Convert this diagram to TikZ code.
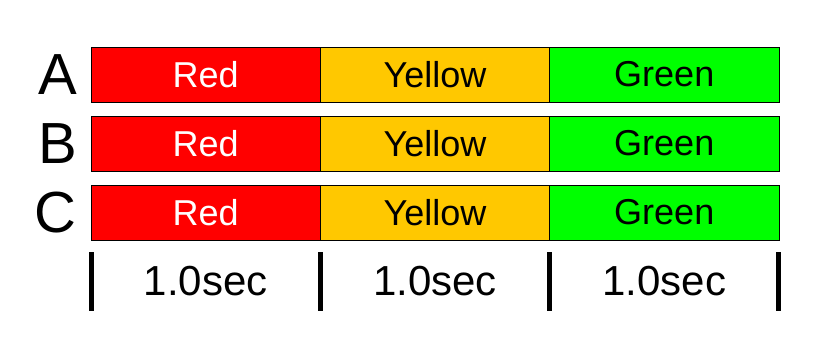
\documentclass[tikz,border=0pt]{standalone}
\usepackage{fontspec}
\setmainfont{Liberation Sans}
\usepackage{xcolor}
\usetikzlibrary{
	positioning,
	calc
}
\definecolor{lightRed}{RGB}{255,0,0}
\definecolor{lightYellow}{RGB}{255,200,0}
\definecolor{lightGreen}{RGB}{0,255,0}

\begin{document}
\begin{tikzpicture}[
	phase/.style={
		rectangle, draw=black, line width=0.8pt,
		minimum width=229.3pt, minimum height=55pt,
		inner sep=0pt, outer sep=0pt,
		font=\fontsize{36}{40}\selectfont
	},
	redbox/.style={
		phase, fill=lightRed, text=white
	},
	yellowbox/.style={
		phase, fill=lightYellow, text=black
	},
	greenbox/.style={
		phase, fill=lightGreen, text=black
	},
	rowlabel/.style={
		inner sep=0pt, font=\fontsize{58}{62}\selectfont
	},
	timelabel/.style={
		inner sep=0pt, font=\fontsize{42}{46}\selectfont
	},
	tick/.style={-, line width=5pt, black}
	]
	
	\useasboundingbox (0,0) rectangle (833pt,-360pt);
	
	% row A
	\node[redbox, anchor=north west] (redA) at (91pt,-47pt) {Red};
	\node[yellowbox, right=0pt of redA] (yellowA) {Yellow};
	\node[greenbox, right=0pt of yellowA] (greenA) {Green};
	
	% row B
	\node[redbox, below=14pt of redA] (redB) {Red};
	\node[yellowbox, right=0pt of redB] (yellowB) {Yellow};
	\node[greenbox, right=0pt of yellowB] (greenB) {Green};
	
	% row C
	\node[redbox, below=14pt of redB] (redC) {Red};
	\node[yellowbox, right=0pt of redC] (yellowC) {Yellow};
	\node[greenbox, right=0pt of yellowC] (greenC) {Green};
	
	% row names
	\node[rowlabel, left=14pt of redA] (nameA) {A};
	\node[rowlabel, left=14pt of redB] (nameB) {B};
	\node[rowlabel, left=14pt of redC] (nameC) {C};
	
	% time axis
	\coordinate (tickTop0) at ([yshift=-12pt]redC.south west);
	\coordinate (tickTop1) at ([yshift=-12pt]redC.south east);
	\coordinate (tickTop2) at ([yshift=-12pt]yellowC.south east);
	\coordinate (tickTop3) at ([yshift=-12pt]greenC.south east);
	\coordinate (tickBot0) at ([yshift=-71pt]redC.south west);
	\coordinate (tickBot1) at ([yshift=-71pt]redC.south east);
	\coordinate (tickBot2) at ([yshift=-71pt]yellowC.south east);
	\coordinate (tickBot3) at ([yshift=-71pt]greenC.south east);
	
	\draw[tick] (tickTop0) -- (tickBot0);
	\draw[tick] (tickTop1) -- (tickBot1);
	\draw[tick] (tickTop2) -- (tickBot2);
	\draw[tick] (tickTop3) -- (tickBot3);
	
	% durations
	\node[timelabel] (timeRed) at ([yshift=-41.5pt]redC.south) {1.0sec};
	\node[timelabel] (timeYellow) at ([yshift=-41.5pt]yellowC.south) {1.0sec};
	\node[timelabel] (timeGreen) at ([yshift=-41.5pt]greenC.south) {1.0sec};
\end{tikzpicture}
\end{document}
